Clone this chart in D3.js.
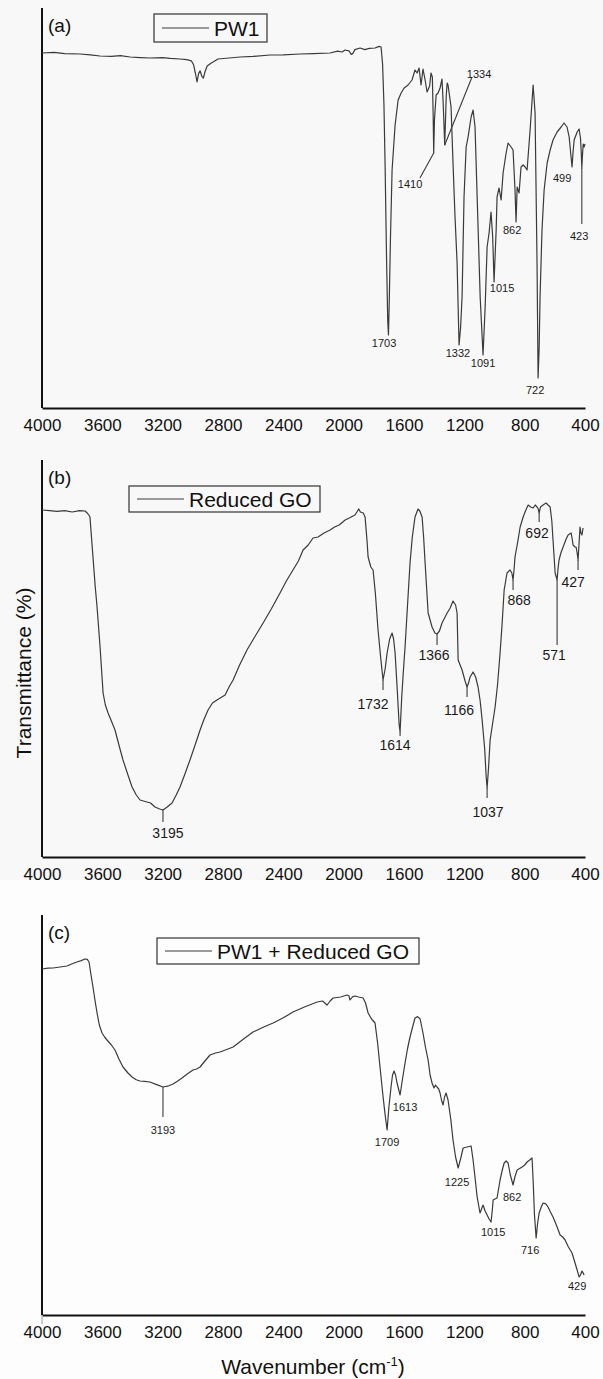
<!DOCTYPE html>
<html>
<head>
  <meta charset="utf-8">
  <script src="https://cdn.jsdelivr.net/npm/d3@7"></script>
  <style>
    body { margin: 0; background: #fff; }
    svg { display: block; font-family: "Liberation Sans", Arial, sans-serif; }
  </style>
</head>
<body>
<script>
// FTIR spectra: [wavenumber (cm-1), transmittance (a.u. %)]
var xTicks = [4000, 3600, 3200, 2800, 2400, 2000, 1600, 1200, 800, 400];

var pw1Spectrum = [
  [4000,88.75],[3920,88.9],[3850,88.6],[3748,88.5],[3680,88.3],[3615,88],[3540,87.9],[3480,88.1],[3416,87.75],
  [3350,87.6],[3284,87.5],[3200,87.6],[3150,87.4],[3085,87.25],[3040,87.1],[3010,86.8],[2995,85.8],[2982,83.5],
  [2972,81.5],[2962,83.6],[2952,84.3],[2940,82.9],[2930,82.5],[2918,84.2],[2905,85.5],[2880,86.2],[2866,86.5],
  [2833,87.25],[2760,87.5],[2687,87.75],[2600,87.9],[2488,88.25],[2400,88.3],[2289,88.5],[2200,88.6],[2090,88.75],
  [2040,89.2],[2010,89.0],[1991,89.5],[1965,89.3],[1950,88.4],[1940,88.6],[1925,89.6],[1891,90],[1860,89.6],
  [1830,89.9],[1792,90],[1765,90.4],[1752,90.25],[1742,86],[1733,76],[1725,60],[1716,38],[1708,22],[1703,18.25],
  [1697,28],[1690,42],[1679,59.5],[1659,70.75],[1639,77],[1619,78.75],[1599,80],[1573,80.75],[1547,82],[1527,84.5],
  [1513,83.75],[1500,85],[1487,80.75],[1474,84.75],[1460,82],[1447,79],[1430,80.5],[1421,83.75],[1412,82.75],
  [1407,74],[1403,63.75],[1398,72],[1387,78.25],[1374,78.75],[1361,80],[1348,82.25],[1340,76],[1330,65.75],
  [1320,78],[1314,81.25],[1308,80.75],[1288,75.25],[1275,61.25],[1262,48],[1248,36.25],[1235,15.75],[1225,20],
  [1215,27.75],[1202,52.75],[1188,65.25],[1175,67.75],[1155,72.75],[1142,74.5],[1129,70.25],[1115,52.75],
  [1095,27.75],[1076,13.25],[1062,25.25],[1049,40.25],[1036,43.75],[1023,49],[1012,42.75],[1003,31.5],[996,38],
  [989,44.5],[983,52.75],[970,55],[956,52],[943,58.75],[923,63.75],[910,66.25],[890,65.25],[877,64.5],[864,54.5],
  [857,46.5],[850,55.25],[837,53.75],[824,60.25],[810,60.75],[797,60.25],[784,59.5],[764,69.5],[744,80.75],
  [731,73.75],[718,36.25],[711,7.5],[704,15],[698,27.75],[685,44.5],[671,54.5],[651,61.25],[631,64.5],[612,67],
  [585,69],[558,70.25],[539,71.25],[519,70.25],[505,67.75],[493,63],[486,60.25],[479,64],[472,67],[452,69],
  [439,69.75],[430,67.5],[425,64],[421,60],[417,63],[412,66],[406,65.25],[400,66]
];

var rgoSpectrum = [
  [4000,86.75],[3950,86.6],[3900,86.4],[3850,86.6],[3800,86.25],[3750,86.6],[3715,86.5],[3700,86],[3690,85.5],
  [3682,85],[3672,80],[3662,75],[3648,68],[3635,62.5],[3615,52.5],[3595,41],[3580,38],[3562,36],[3540,34],
  [3516,31.75],[3490,28],[3463,24.25],[3430,20.5],[3403,17.5],[3375,15.5],[3350,14.25],[3304,13.75],[3280,13.5],
  [3251,12.5],[3220,12],[3198,11.75],[3170,12.5],[3138,13.5],[3110,15.5],[3085,17.5],[3050,21],[3019,24.25],
  [2985,28],[2952,31.75],[2925,34.5],[2899,36.75],[2870,38.5],[2840,39.25],[2786,40.5],[2760,42.5],[2733,44.25],
  [2690,48],[2641,51.75],[2590,55],[2534,58.5],[2480,62],[2422,66],[2380,69],[2336,71.75],[2300,74],[2269,76.75],
  [2235,78],[2203,79.75],[2170,80],[2130,81],[2090,81.75],[2060,82.5],[2030,83],[1990,84.25],[1960,84.8],
  [1925,85.5],[1900,87],[1889,86.25],[1870,86],[1858,85],[1845,79],[1838,75],[1820,72.5],[1805,71.75],[1790,66],
  [1772,56.75],[1755,50],[1739,44.25],[1725,47],[1712,51],[1695,54.5],[1679,56],[1669,54.5],[1659,51],[1645,42],
  [1632,33],[1626,31.25],[1615,40],[1605,46],[1593,52.5],[1575,64],[1560,73.5],[1545,80],[1527,85],[1507,87],
  [1495,86.5],[1480,85],[1470,80],[1460,73.5],[1440,61],[1414,57.5],[1395,56],[1381,55.75],[1365,56.5],
  [1348,58.5],[1314,61],[1294,62.25],[1275,64],[1258,63],[1248,61],[1241,49.25],[1215,46.75],[1195,44],
  [1182,42.5],[1172,43.5],[1162,45],[1142,46.25],[1125,45],[1109,42.5],[1095,39],[1082,34.25],[1065,27],
  [1055,20],[1049,17.25],[1040,22],[1029,29.25],[1010,34],[996,37.5],[980,43],[963,51],[950,58],[936,66.75],
  [917,71],[897,71.75],[885,71],[877,69.25],[870,72],[864,75],[845,79],[830,82.5],[810,85],[795,86.5],[777,88],
  [760,87.5],[744,87.25],[730,88],[718,87.5],[710,87],[704,86],[695,87.5],[678,88],[658,88.5],[645,88],
  [631,87.5],[620,84],[612,79.25],[598,71],[585,69.25],[579,72],[572,74.25],[560,76],[545,77.5],[525,79.5],
  [512,80.5],[492,81],[485,79.5],[479,78],[466,77.5],[459,77.5],[452,76],[446,74.25],[440,78],[433,82.5],
  [427,81],[420,80.5],[413,82.25]
];

var mixSpectrum = [
  [4000,86.5],[3960,86.7],[3927,86.75],[3880,87],[3834,87.25],[3800,87.8],[3768,88.25],[3740,88.6],[3715,89],
  [3700,88.9],[3688,88.25],[3675,85],[3662,82],[3648,78.5],[3635,75.5],[3620,72.5],[3602,70.5],[3585,69.5],
  [3569,68.75],[3540,67.5],[3516,66.25],[3490,64],[3463,62],[3430,60.5],[3403,59.5],[3375,58.8],[3350,58.5],
  [3320,58.4],[3284,58.25],[3240,57.6],[3198,57],[3160,57.3],[3131,57.75],[3100,58.5],[3072,59.25],[3035,60.3],
  [2999,61.25],[2975,61.5],[2952,62],[2920,63.5],[2886,65],[2850,65.5],[2820,65.75],[2780,66.3],[2733,67],
  [2670,68.8],[2601,70.75],[2530,72],[2468,73],[2400,74.3],[2336,75.75],[2260,77],[2176,78.25],[2140,78.5],
  [2110,77.5],[2090,78.5],[2070,79.25],[2020,79.5],[1978,80],[1965,79.8],[1958,78.75],[1940,79.6],[1925,79.75],
  [1900,79.5],[1871,79.25],[1855,78],[1838,75.5],[1815,74],[1792,73],[1775,68],[1759,62],[1740,55],[1725,50],
  [1712,46.25],[1700,52],[1686,57],[1676,60],[1666,61],[1656,60],[1646,58],[1626,55],[1610,59],[1593,63],
  [1577,66.5],[1560,69.5],[1543,72],[1527,74.25],[1510,74.6],[1493,74],[1474,70.5],[1458,67],[1440,63.75],
  [1427,60],[1414,58],[1401,56.75],[1391,57.5],[1381,57],[1370,56.5],[1361,55.5],[1350,53.5],[1341,52.5],
  [1331,54.5],[1321,55.5],[1308,53.75],[1290,49],[1275,43.75],[1258,39.5],[1241,36.75],[1225,39],[1208,41.75],
  [1182,42],[1155,42.25],[1142,38.75],[1128,34],[1115,29.5],[1096,25.5],[1086,26.5],[1076,27.5],[1062,26],
  [1049,25],[1036,24],[1023,23.25],[1015,26],[1009,28.75],[997,29],[983,29.25],[963,33.75],[950,36],[936,38],
  [923,38.5],[910,38],[895,35],[877,32.5],[865,34.5],[850,36.25],[817,37],[800,37.5],[784,38.25],[765,38.8],
  [751,39.25],[744,33.75],[735,25],[724,19.25],[714,23],[704,25.5],[690,27],[678,28],[660,27.8],[645,27],
  [630,25.8],[612,24.5],[590,22.5],[565,20],[548,19.5],[532,18.75],[510,17],[486,15.5],[470,13.5],[452,11.25],
  [439,9.5],[430,10],[420,11],[412,10.5],[406,10]
];

// peak labels: [text, wavenumber, transmittance] of the label centre
var peaksA = [["1703",1732,16.25],["1332",1242,13.75],["1091",1076,11.25],["722",731,4.5],["1015",950,30],
  ["862",883,44.5],["499",552,57.5],["423",439,43],["1410",1560,56],["1334",1102,83.5]];
var peaksB = [["3195",3165,6],["1732",1805,38.25],["1614",1659,28],["1366",1401,50.5],["1166",1235,36.75],
  ["1037",1043,11.25],["868",837,64.25],["692",718,81],["571",605,50.5],["427",479,68.75]];
var peaksC = [["3193",3198,46.25],["1709",1712,43.25],["1613",1593,52],["1225",1248,33.25],["1015",1009,20.75],
  ["862",883,29.5],["716",764,16.25],["429",452,7.25]];

// leader lines: [wn1, t1, wn2, t2]
var leadersA = [[1403,63.75,1494,57.5],[1330,65.75,1149,82.75],[421,60,421,46]];
var leadersB = [[3198,11.75,3198,8.75],[1739,44.25,1739,41.75],[1626,31.25,1626,30.25],[1381,55.75,1381,53],
  [1182,42.5,1182,40],[1049,17.25,1049,14.75],[877,69.25,877,66.75],[704,86,704,83.75],[585,69.25,585,53],
  [446,74.25,446,71.75]];
var leadersC = [[3198,57,3198,49.5]];

var W = 603, H = 1379;
var left = 42, right = 585;

var panels = [
  {tag: "(a)", name: "PW1", data: pw1Spectrum, peaks: peaksA, leaders: leadersA,
   top: 8, lineTop: 8, base: 408, box: [154, 14, 113, 28], peakFont: 11, originTick: false},
  {tag: "(b)", name: "Reduced GO", data: rgoSpectrum, peaks: peaksB, leaders: leadersB,
   top: 457, lineTop: 460, base: 857, box: [129, 486, 191, 26], peakFont: 14, originTick: false},
  {tag: "(c)", name: "PW1 + Reduced GO", data: mixSpectrum, peaks: peaksC, leaders: leadersC,
   top: 915, lineTop: 915, base: 1315, box: [157, 938, 262, 26], peakFont: 11, originTick: true}
];

var svg = d3.select("body").append("svg").attr("width", W).attr("height", H);

svg.append("rect").attr("width", W).attr("height", 880).attr("fill", "#f8f8f8");
svg.append("rect").attr("y", 880).attr("width", W).attr("height", H - 880).attr("fill", "#fdfdfd");

var x = d3.scaleLinear().domain([4000, 400]).range([left, right]);
var lineColor = "#3a3a3a";

panels.forEach(function(p) {
  var y = d3.scaleLinear().domain([0, 100]).range([p.base, p.top]);
  var g = svg.append("g");

  // y axis line
  g.append("line")
    .attr("x1", left).attr("x2", left)
    .attr("y1", p.lineTop).attr("y2", p.base)
    .attr("stroke", "#111").attr("stroke-width", 2);

  // x axis
  var ax = g.append("g")
    .attr("transform", "translate(0," + p.base + ")")
    .call(d3.axisBottom(x).tickValues(xTicks).tickSize(0).tickSizeOuter(0).tickPadding(11)
      .tickFormat(d3.format("d")));
  ax.select(".domain").attr("stroke", "#111").attr("stroke-width", 2);
  ax.selectAll("text")
    .attr("font-size", 17).attr("fill", "#111")
    .attr("font-family", "'Liberation Sans', Arial, sans-serif");
  if (p.originTick) {
    g.append("line")
      .attr("x1", x(4000)).attr("x2", x(4000))
      .attr("y1", p.base).attr("y2", p.base + 9)
      .attr("stroke", "#999").attr("stroke-width", 1);
  }

  // spectrum
  var line = d3.line().x(function(d) { return x(d[0]); }).y(function(d) { return y(d[1]); });
  g.append("path").datum(p.data)
    .attr("d", line).attr("fill", "none")
    .attr("stroke", lineColor).attr("stroke-width", 1.2).attr("stroke-linejoin", "round");

  // leaders
  g.selectAll(".leader").data(p.leaders).enter().append("line")
    .attr("x1", function(d) { return x(d[0]); }).attr("y1", function(d) { return y(d[1]); })
    .attr("x2", function(d) { return x(d[2]); }).attr("y2", function(d) { return y(d[3]); })
    .attr("stroke", lineColor).attr("stroke-width", 1.1);

  // peak labels
  g.selectAll(".peak").data(p.peaks).enter().append("text")
    .attr("x", function(d) { return x(d[1]); })
    .attr("y", function(d) { return y(d[2]); })
    .attr("dy", "0.36em")
    .attr("text-anchor", "middle")
    .attr("font-size", p.peakFont)
    .attr("fill", "#1a1a1a")
    .text(function(d) { return d[0]; });

  // panel tag
  g.append("text")
    .attr("x", 48).attr("y", y(100) + 17 + (p.lineTop - p.top))
    .attr("dy", "0.36em")
    .attr("font-size", 19).attr("fill", "#111")
    .text(p.tag);

  // legend
  var b = p.box;
  g.append("rect")
    .attr("x", b[0]).attr("y", b[1]).attr("width", b[2]).attr("height", b[3])
    .attr("fill", "none").attr("stroke", "#333").attr("stroke-width", 1.2);
  g.append("line")
    .attr("x1", b[0] + 8).attr("x2", b[0] + 55)
    .attr("y1", b[1] + b[3] / 2).attr("y2", b[1] + b[3] / 2)
    .attr("stroke", lineColor).attr("stroke-width", 1.2);
  g.append("text")
    .attr("x", b[0] + 60).attr("y", b[1] + b[3] / 2)
    .attr("dy", "0.36em")
    .attr("font-size", 21).attr("fill", "#111")
    .text(p.name);
});

// axis titles
svg.append("text")
  .attr("transform", "translate(23,673) rotate(-90)")
  .attr("text-anchor", "middle")
  .attr("dy", "0.36em")
  .attr("font-size", 21).attr("fill", "#111")
  .text("Transmittance (%)");

var xt = svg.append("text")
  .attr("x", 313).attr("y", 1374)
  .attr("text-anchor", "middle")
  .attr("font-size", 21).attr("fill", "#111");
xt.append("tspan").text("Wavenumber (cm");
xt.append("tspan").attr("dy", -8).attr("font-size", 13).text("-1");
xt.append("tspan").attr("dy", 8).text(")");
</script>
</body>
</html>
